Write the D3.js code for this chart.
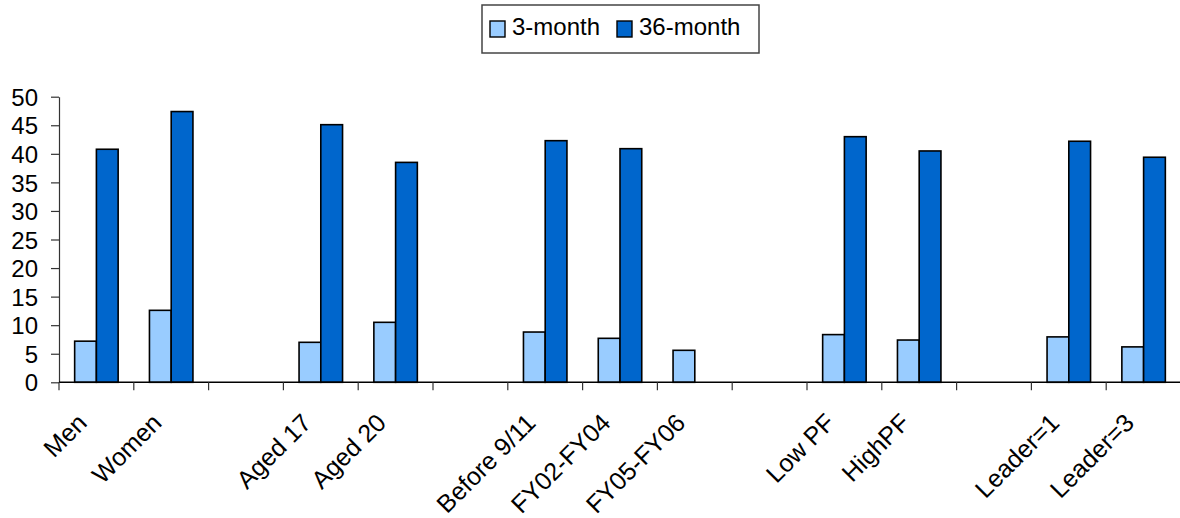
<!DOCTYPE html>
<html>
<head>
<meta charset="utf-8">
<script src="https://cdn.jsdelivr.net/npm/d3@7"></script>
<style>
  html, body { margin: 0; padding: 0; background: #fff; }
  svg { display: block; font-family: "Liberation Sans", Arial, sans-serif; }
</style>
</head>
<body>
<svg id="chart" width="1180" height="518"></svg>
<script>
// ---- data ----
const categories = ["Men", "Women", "", "Aged 17", "Aged 20", "", "Before 9/11", "FY02-FY04", "FY05-FY06", "", "Low PF", "HighPF", "", "Leader=1", "Leader=3"];
const seriesNames = ["3-month", "36-month"];
const threeMonth = [7.2, 12.6, null, 7.0, 10.5, null, 8.8, 7.7, 5.6, null, 8.35, 7.4, null, 7.95, 6.2];
const thirtySixMonth = [40.8, 47.4, null, 45.1, 38.5, null, 42.3, 40.9, null, null, 43.0, 40.5, null, 42.2, 39.4];
const yTicks = [0, 5, 10, 15, 20, 25, 30, 35, 40, 45, 50];
const colors = ["#99CCFF", "#0066CC"];

(function () {
const svg = d3.select("#chart");
const mLeft = 59, mRight = 1181, mTop = 96.7, mBottom = 382.3;

const idx = categories.map((d, i) => i);
const x = d3.scaleBand().domain(idx).range([mLeft, mRight]).padding(0);
const x1 = d3.scaleBand().domain(seriesNames).range([0, x.bandwidth()]).paddingInner(0).paddingOuter(0.72);
const y = d3.scaleLinear().domain([0, 50]).range([mBottom, mTop]);

const seriesValues = [threeMonth, thirtySixMonth];

// bars
seriesNames.forEach((s, si) => {
  svg.append("g").selectAll("rect")
    .data(idx.filter(i => seriesValues[si][i] != null))
    .join("rect")
    .attr("x", i => x(i) + x1(s))
    .attr("y", i => y(seriesValues[si][i]))
    .attr("width", x1.bandwidth())
    .attr("height", i => y(0) - y(seriesValues[si][i]))
    .attr("fill", colors[si])
    .attr("stroke", "#000")
    .attr("stroke-width", 1.6);
});

// y axis
const yAxis = d3.axisLeft(y).tickValues(yTicks).tickSize(8).tickPadding(13).tickSizeOuter(0);
const gy = svg.append("g").attr("transform", `translate(${mLeft},0)`).call(yAxis);
gy.select(".domain").attr("stroke", "#333").attr("stroke-width", 1.2);
gy.selectAll(".tick line").attr("stroke", "#333").attr("stroke-width", 1.2);
gy.selectAll(".tick text").attr("font-size", 24).attr("fill", "#000")
  .attr("font-family", "'Liberation Sans', Arial, sans-serif").attr("dy", "0.36em");

// x axis: line and boundary ticks
const boundaries = d3.range(categories.length + 1).map(i => mLeft + i * x.step());
const gx = svg.append("g");
gx.append("line").attr("x1", mLeft).attr("x2", mRight).attr("y1", mBottom).attr("y2", mBottom)
  .attr("stroke", "#000").attr("stroke-width", 1.4);
gx.selectAll("line.tk").data(boundaries).join("line").attr("class", "tk")
  .attr("x1", d => d).attr("x2", d => d).attr("y1", mBottom).attr("y2", mBottom + 8)
  .attr("stroke", "#333").attr("stroke-width", 1.2);

// x labels
gx.selectAll("text.lbl").data(idx.filter(i => categories[i] !== "")).join("text").attr("class", "lbl")
  .attr("text-anchor", "end")
  .attr("font-size", 25)
  .attr("transform", i => `translate(${x(i) + x.bandwidth() / 2 - 8},${mBottom + 42}) rotate(-45)`)
  .text(i => categories[i]);

// legend
const lg = svg.append("g");
lg.append("rect").attr("x", 482).attr("y", 5).attr("width", 277).attr("height", 48)
  .attr("fill", "#fff").attr("stroke", "#444").attr("stroke-width", 1.5);
const legendX = [490, 617];
seriesNames.forEach((s, si) => {
  lg.append("rect").attr("x", legendX[si]).attr("y", 21).attr("width", 15).attr("height", 16)
    .attr("fill", colors[si]).attr("stroke", "#000").attr("stroke-width", 1.4);
  lg.append("text").attr("x", legendX[si] + 22).attr("y", 34.5).attr("font-size", 24)
    .text(s);
});
})();
</script>
</body>
</html>
